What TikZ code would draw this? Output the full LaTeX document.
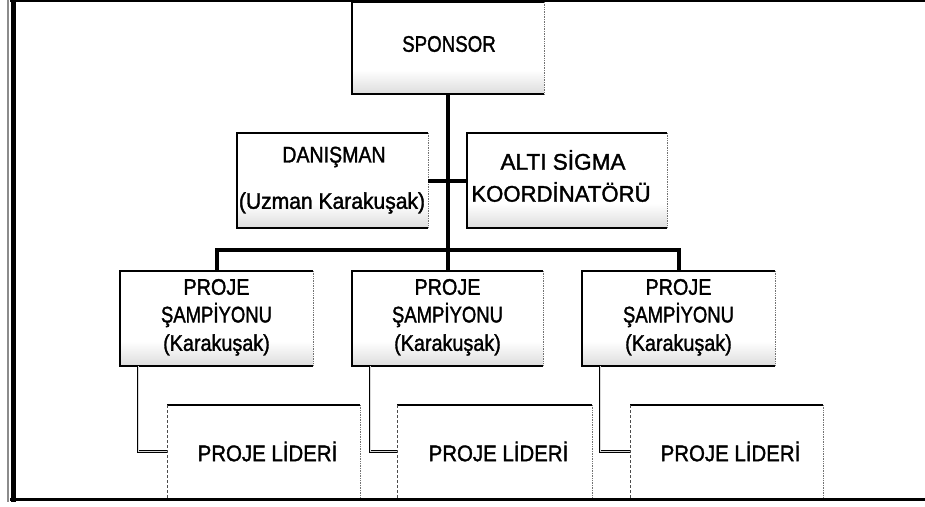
\documentclass[tikz,border=0pt]{standalone}
\usepackage{fontspec}
\usepackage{graphicx}
\setmainfont{Liberation Sans}
\newfontfamily\dfont{Liberation Sans}[FakeBold=1.6]
\pgfdeclareverticalshading{boxshade}{100bp}{color(0bp)=(black!40); color(14bp)=(black!25); color(38bp)=(white); color(100bp)=(white)}
\tikzset{
  box/.style={rectangle, inner sep=0pt, outer sep=0pt, shading=boxshade},
  plainbox/.style={rectangle, inner sep=0pt, outer sep=0pt, fill=white},
  edge/.style={black, line width=1.1pt},
  redge/.style={black!55, line width=0.7pt, densely dotted},
  txt/.style={inner sep=0pt, font=\dfont\fontsize{21.5}{23}\selectfont},
  bus/.style={black, line width=4pt},
  elbow/.style={black, line width=0.8pt, double=black!15, double distance=1pt},
}
\newcommand{\sx}[2]{\scalebox{#1}[1.05]{#2}}
\begin{document}
\begin{tikzpicture}[x=1pt,y=-1pt]
\useasboundingbox (0,0) rectangle (925,506);
% frame
\draw[black, line width=1.6pt] (10,1.2) -- (925,1.2);
\draw[black, line width=3.5pt] (10,499.5) -- (925,499.5);
\draw[black, line width=5pt] (13,0) -- (13,502);
\draw[black!45, line width=2pt] (8,0) -- (8,502);
% boxes
\node[box, minimum width=192pt, minimum height=92pt] (sp) at (448,48) {};
\node[box, minimum width=191pt, minimum height=95pt] (dn) at (332.5,180.5) {};
\node[box, minimum width=200pt, minimum height=95pt] (al) at (567,180.5) {};
\node[box, minimum width=193pt, minimum height=95pt] (c1) at (216.5,318.5) {};
\node[box, minimum width=191pt, minimum height=95pt] (c2) at (447.5,318.5) {};
\node[box, minimum width=193pt, minimum height=95pt] (c3) at (678.5,318.5) {};
\node[plainbox, minimum width=193pt, minimum height=93pt] (l1) at (263.5,451.5) {};
\node[plainbox, minimum width=195pt, minimum height=93pt] (l2) at (494.5,451.5) {};
\node[plainbox, minimum width=193pt, minimum height=93pt] (l3) at (726.5,451.5) {};
% box edges
\foreach \n in {sp,dn,al,c1,c2,c3}{
  \draw[edge] (\n.north east) -- (\n.north west) -- (\n.south west) -- (\n.south east);
  \draw[redge] (\n.north east) -- (\n.south east);
}
\foreach \n in {l1,l2,l3}{
  \draw[edge] (\n.north east) -- (\n.north west);
  \draw[black!70, line width=0.6pt, densely dashed] (\n.north west) -- (\n.south west);
  \draw[redge] (\n.north east) -- (\n.south east);
}
% texts
\node[txt] (tsp) at (449,44) {\sx{0.87}{SPONSOR}};
\node[txt] (tdn1) at (334,157) {\sx{0.91}{DANIŞMAN}};
\node[txt] (tdn2) at (332,203) {\sx{0.98}{(Uzman Karakuşak)}};
\node[txt] (tal1) at (563,160) {\sx{1.05}{ALTI SİGMA}};
\node[txt] (tal2) at (561,192) {\sx{1.03}{KOORDİNATÖRÜ}};
\foreach \n/\x in {c1/216.5,c2/447.5,c3/678.5}{
  \node[txt] (\n a) at (\x,287) {\sx{0.92}{PROJE}};
  \node[txt] (\n b) at (\x,315) {\sx{0.86}{ŞAMPİYONU}};
  \node[txt] (\n c) at (\x,345) {\sx{0.92}{(Karakuşak)}};
}
\foreach \n in {l1,l2,l3}{
  \node[txt] (\n t) at ([xshift=4pt]\n.center) {\sx{0.95}{PROJE LİDERİ}};
}
% connectors
\coordinate (busy) at (449,250);
\draw[bus] (sp.south) -- (sp.south |- c2.north);
\draw[bus] (dn.east) -- (al.west);
\draw[bus] (c1.north) -- (c1.north |- busy) -- (c3.north |- busy) -- (c3.north);
\foreach \c/\l in {c1/l1,c2/l2,c3/l3}{
  \draw[elbow] ([xshift=18pt]\c.south west) |- (\l.west);
}
\end{tikzpicture}
\end{document}
